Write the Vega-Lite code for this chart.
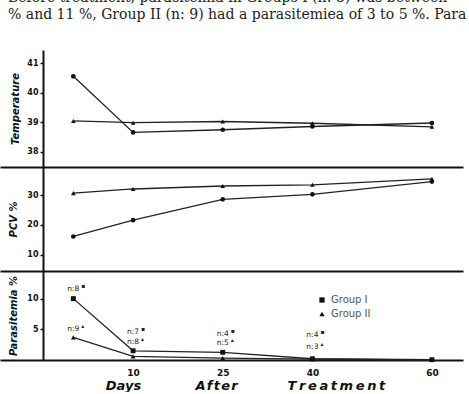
{
  "$schema": "https://vega.github.io/schema/vega-lite/v6.json",
  "padding": {"left": 0, "top": -11, "right": 0, "bottom": 0},
  "background": "white",
  "spacing": 0,
  "config": {
    "view": {"stroke": null},
    "concat": {"spacing": 0},
    "axis": {
      "domainColor": "#111", "domainWidth": 2, "grid": false,
      "labelFont": "DejaVu Sans", "labelFontWeight": "bold", "labelFontSize": 8, "labelColor": "#111",
      "tickColor": "#111", "tickWidth": 1.5,
      "titleFont": "DejaVu Sans", "titleFontStyle": "italic", "titleFontWeight": "bold", "titleColor": "#111", "titleFontSize": 10
    }
  },
  "title": {
    "text": ["\u00a0\u00a0\u00a0\u00a0Before treatment, parasitemia in Groups I (n: 8) was between", "% and 11 %, Group II (n: 9) had a parasitemiea of 3 to 5 %. Para"],
    "anchor": "start", "frame": "group", "font": "DejaVu Serif Condensed", "fontSize": 15.6, "fontWeight": "normal",
    "color": "#222", "lineHeight": 17.5, "offset": 27, "dx": 8
  },
  "datasets": {
    "temp": [
      {"day": 0, "group": "Group I", "value": 40.56},
      {"day": 10, "group": "Group I", "value": 38.66},
      {"day": 25, "group": "Group I", "value": 38.75},
      {"day": 40, "group": "Group I", "value": 38.86},
      {"day": 60, "group": "Group I", "value": 38.98},
      {"day": 0, "group": "Group II", "value": 39.05},
      {"day": 10, "group": "Group II", "value": 38.99},
      {"day": 25, "group": "Group II", "value": 39.03},
      {"day": 40, "group": "Group II", "value": 38.97},
      {"day": 60, "group": "Group II", "value": 38.85}
    ],
    "pcv": [
      {"day": 0, "group": "Group I", "value": 16.1},
      {"day": 10, "group": "Group I", "value": 21.6},
      {"day": 25, "group": "Group I", "value": 28.6},
      {"day": 40, "group": "Group I", "value": 30.3},
      {"day": 60, "group": "Group I", "value": 34.6},
      {"day": 0, "group": "Group II", "value": 30.7},
      {"day": 10, "group": "Group II", "value": 32.1},
      {"day": 25, "group": "Group II", "value": 33.1},
      {"day": 40, "group": "Group II", "value": 33.5},
      {"day": 60, "group": "Group II", "value": 35.5}
    ],
    "para": [
      {"day": 0, "group": "Group I", "value": 10.0},
      {"day": 10, "group": "Group I", "value": 1.5},
      {"day": 25, "group": "Group I", "value": 1.25},
      {"day": 40, "group": "Group I", "value": 0.2},
      {"day": 60, "group": "Group I", "value": 0.05},
      {"day": 0, "group": "Group II", "value": 3.7},
      {"day": 10, "group": "Group II", "value": 0.6},
      {"day": 25, "group": "Group II", "value": 0.3},
      {"day": 40, "group": "Group II", "value": 0.15},
      {"day": 60, "group": "Group II", "value": 0}
    ],
    "notes": [
      {"day": 0, "value": 11.5, "label": "n:8", "sup": "▪"},
      {"day": 0, "value": 5.1, "label": "n:9", "sup": "▴"},
      {"day": 10, "value": 4.5, "label": "n:7", "sup": "▪"},
      {"day": 10, "value": 3.0, "label": "n:8", "sup": "▴"},
      {"day": 25, "value": 4.3, "label": "n:4", "sup": "▪"},
      {"day": 25, "value": 2.8, "label": "n:5", "sup": "▴"},
      {"day": 40, "value": 4.0, "label": "n:4", "sup": "▪"},
      {"day": 40, "value": 2.1, "label": "n:3", "sup": "▴"}
    ]
  },
  "vconcat": [
    {
      "width": 463, "height": 117,
      "data": {"name": "temp"},
      "encoding": {
        "x": {"field": "day", "type": "quantitative", "scale": {"domain": [-12.27, 65.2], "nice": false, "zero": false}, "axis": {"ticks": false, "labels": false, "title": null}},
        "y": {"field": "value", "type": "quantitative", "scale": {"domain": [37.49, 41.45], "nice": false, "zero": false}, "axis": {"values": [38, 39, 40, 41], "offset": -43, "tickSize": 3, "labelPadding": 2, "title": "Temperature", "titlePadding": 6}}
      },
      "layer": [
        {"mark": {"type": "line", "color": "#222", "strokeWidth": 1.3}, "encoding": {"detail": {"field": "group"}}},
        {"mark": {"type": "point", "filled": true, "color": "#111", "opacity": 1, "size": 22}, "encoding": {"shape": {"field": "group", "type": "nominal", "scale": {"domain": ["Group I", "Group II"], "range": ["circle", "triangle-up"]}, "legend": null}}}
      ]
    },
    {
      "width": 463, "height": 104,
      "data": {"name": "pcv"},
      "encoding": {
        "x": {"field": "day", "type": "quantitative", "scale": {"domain": [-12.27, 65.2], "nice": false, "zero": false}, "axis": {"ticks": false, "labels": false, "title": null}},
        "y": {"field": "value", "type": "quantitative", "scale": {"domain": [4.48, 39.5], "nice": false, "zero": false}, "axis": {"values": [10, 20, 30], "offset": -43, "tickSize": 3, "labelPadding": 2, "title": "PCV %", "titlePadding": 8}}
      },
      "layer": [
        {"mark": {"type": "line", "color": "#222", "strokeWidth": 1.3}, "encoding": {"detail": {"field": "group"}}},
        {"mark": {"type": "point", "filled": true, "color": "#111", "opacity": 1, "size": 22}, "encoding": {"shape": {"field": "group", "type": "nominal", "scale": {"domain": ["Group I", "Group II"], "range": ["circle", "triangle-up"]}, "legend": null}}}
      ]
    },
    {
      "width": 463, "height": 89,
      "layer": [
        {
          "data": {"name": "para"},
          "mark": {"type": "line", "color": "#222", "strokeWidth": 1.3},
          "encoding": {
            "x": {"field": "day", "type": "quantitative", "scale": {"domain": [-12.27, 65.2], "nice": false, "zero": false},
              "axis": {"values": [10, 25, 40, 60], "ticks": false, "labelPadding": 8, "labelFontSize": 9,
                "title": "Days\u00a0\u00a0\u00a0\u00a0\u00a0\u00a0\u00a0\u00a0\u00a0\u00a0\u00a0\u00a0A\u200af\u200at\u200ae\u200ar\u00a0\u00a0\u00a0\u00a0\u00a0\u00a0\u00a0\u00a0\u00a0\u00a0\u00a0T\u2009r\u2009e\u2009a\u2009t\u2009m\u2009e\u2009n\u2009t",
                "titleFontSize": 13, "titleX": 245, "titleY": 25, "titleBaseline": "middle"}},
            "y": {"field": "value", "type": "quantitative", "scale": {"domain": [0, 14.5], "nice": false, "zero": false}, "axis": {"values": [5, 10], "offset": -43, "tickSize": 3, "labelPadding": 2, "title": "Parasitemia %", "titlePadding": 8}},
            "detail": {"field": "group"}
          }
        },
        {
          "data": {"name": "para"},
          "mark": {"type": "point", "filled": true, "color": "#111", "opacity": 1, "size": 24},
          "encoding": {
            "x": {"field": "day", "type": "quantitative"},
            "y": {"field": "value", "type": "quantitative"},
            "shape": {"field": "group", "type": "nominal", "scale": {"domain": ["Group I", "Group II"], "range": ["square", "triangle-up"]},
              "legend": {"orient": "none", "legendX": 317, "legendY": 24, "title": null, "labelFont": "DejaVu Sans", "labelFontSize": 10, "labelColor": "#555", "symbolSize": 28, "symbolFillColor": "#222", "symbolStrokeColor": "#222", "rowPadding": 2, "padding": 0}}
          }
        },
        {
          "data": {"name": "notes"},
          "mark": {"type": "text", "font": "DejaVu Sans", "fontSize": 7.5, "color": "#222", "align": "center", "baseline": "middle"},
          "encoding": {
            "x": {"field": "day", "type": "quantitative"},
            "y": {"field": "value", "type": "quantitative"},
            "text": {"field": "label"}
          }
        },
        {
          "data": {"name": "notes"},
          "mark": {"type": "text", "font": "DejaVu Sans", "fontSize": 6, "color": "#222", "align": "left", "baseline": "middle", "dx": 8, "dy": -3},
          "encoding": {
            "x": {"field": "day", "type": "quantitative"},
            "y": {"field": "value", "type": "quantitative"},
            "text": {"field": "sup"}
          }
        }
      ]
    }
  ],
  "resolve": {"scale": {"x": "shared", "y": "independent", "shape": "independent"}, "legend": {"shape": "independent"}}
}
